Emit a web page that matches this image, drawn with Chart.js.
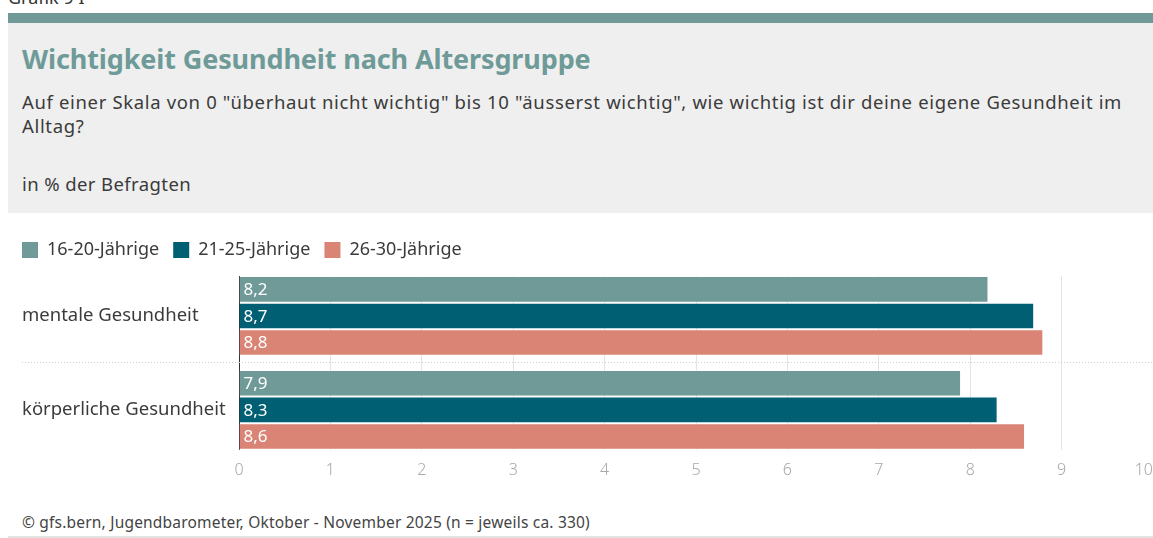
<!DOCTYPE html>
<html lang="de">
<head>
<meta charset="utf-8">
<script src="https://cdn.jsdelivr.net/npm/chart.js@4/dist/chart.umd.min.js"></script>
<style>
  html, body { margin: 0; padding: 0; background: #fff; overflow: hidden; }
  body { width: 1153px; height: 538px; position: relative; font-family: "Noto Sans", sans-serif; }
  .kicker { position: absolute; left: 8px; top: -15px; font-size: 18px; color: #333; }
  .band { position: absolute; left: 8px; right: 0; top: 13px; height: 10px; background: #6f9a98; }
  .head { position: absolute; left: 8px; right: 0; top: 23px; height: 190px; background: #efefef; }
  .title { position: absolute; left: 14px; top: 17px; font-size: 27px; letter-spacing: -0.12px; font-weight: 700; color: #6e9a98; }
  .sub { position: absolute; left: 14px; top: 67px; width: 1120px; font-size: 18.5px; letter-spacing: 0.65px; line-height: 24px; color: #3b3b3b; }
  .unit { position: absolute; left: 14px; top: 148px; font-size: 18.5px; letter-spacing: 0.4px; color: #3b3b3b; }
  .chartbox { position: absolute; left: 0; top: 217px; width: 1172px; height: 267px; }
  .foot { position: absolute; left: 22px; top: 511px; font-size: 15.5px; letter-spacing: 0.2px; color: #444; }
  .rule { position: absolute; left: 8px; right: 0; top: 536px; height: 2px; background: #e2e2e2; }
</style>
</head>
<body>
<div class="kicker">Grafik 9 I</div>
<div class="band"></div>
<div class="head">
  <div class="title">Wichtigkeit Gesundheit nach Altersgruppe</div>
  <div class="sub">Auf einer Skala von 0 "überhaut nicht wichtig" bis 10 "äusserst wichtig", wie wichtig ist dir deine eigene Gesundheit im Alltag?</div>
  <div class="unit">in % der Befragten</div>
</div>
<div class="chartbox"><canvas id="c" width="1172" height="267"></canvas></div>
<div class="foot">© gfs.bern, Jugendbarometer, Oktober - November 2025 (n = jeweils ca. 330)</div>
<div class="rule"></div>

<script>
// Kategorien und Werte (Mittelwerte auf der Skala 0–10)
const categories = ["mentale Gesundheit", "körperliche Gesundheit"];
const seriesNames = ["16-20-Jährige", "21-25-Jährige", "26-30-Jährige"];
const values1620 = [8.2, 7.9];
const values2125 = [8.7, 8.3];
const values2630 = [8.8, 8.6];
const xTicks = [0, 1, 2, 3, 4, 5, 6, 7, 8, 9, 10];

const colors = ["#6f9a98", "#005f73", "#d98474"];
const FONT = "'Noto Sans', sans-serif";
const LEGEND_GAP = 14;

// Wert-Beschriftungen am Balkenanfang
const valueLabels = {
  id: "valueLabels",
  afterDatasetsDraw(chart) {
    const ctx = chart.ctx;
    ctx.save();
    ctx.font = "17px " + FONT;
    ctx.fillStyle = "#ffffff";
    ctx.textAlign = "left";
    ctx.textBaseline = "middle";
    chart.data.datasets.forEach((ds, i) => {
      chart.getDatasetMeta(i).data.forEach((bar, j) => {
        const txt = ds.data[j].toFixed(1).replace(".", ",");
        ctx.fillText(txt, bar.base + 4, bar.y + 1);
      });
    });
    ctx.restore();
  }
};

// Legende bündig mit den Achsenbeschriftungen ausrichten
const legendFlush = {
  id: "legendFlush",
  afterLayout(chart) {
    if (chart.legend) {
      chart.legend.left -= LEGEND_GAP;
    }
  }
};

// Letzte Skalenbeschriftung rechtsbündig an ihre Gitterlinie setzen
const lastTickInside = {
  id: "lastTickInside",
  beforeDraw(chart) {
    const scale = chart.scales.x;
    const items = scale.getLabelItems(chart.chartArea);
    const last = items[items.length - 1];
    if (last) {
      last.options.textAlign = "right";
      last.options.translation[0] = scale.getPixelForValue(xTicks[xTicks.length - 1]);
    }
  }
};

// Gitter und Achse nur über die Höhe der Balkengruppen zeigen
const trimGrid = {
  id: "trimGrid",
  beforeDatasetsDraw(chart) {
    const area = chart.chartArea;
    const first = chart.getDatasetMeta(0).data[0];
    const lastMeta = chart.getDatasetMeta(chart.data.datasets.length - 1).data;
    const lastBar = lastMeta[lastMeta.length - 1];
    const top = first.y - first.height / 2;
    const bottom = lastBar.y + lastBar.height / 2;
    const ctx = chart.ctx;
    ctx.save();
    ctx.fillStyle = "#ffffff";
    ctx.fillRect(area.left - 1, area.top - 1, area.right - area.left + 3, top - area.top + 1);
    ctx.fillRect(area.left - 1, bottom, area.right - area.left + 3, area.bottom - bottom + 1);
    ctx.restore();
  }
};

new Chart(document.getElementById("c"), {
  type: "bar",
  data: {
    labels: categories,
    datasets: [values1620, values2125, values2630].map((d, i) => ({
      label: seriesNames[i],
      data: d,
      backgroundColor: colors[i],
      borderColor: "rgba(255,255,255,0.35)",
      borderWidth: 1,
      borderSkipped: "left",
      categoryPercentage: 0.85,
      barPercentage: 1.0
    }))
  },
  options: {
    indexAxis: "y",
    responsive: false,
    animation: false,
    devicePixelRatio: 1,
    layout: { padding: { left: 22, right: 19, top: 10, bottom: 0 } },
    plugins: {
      tooltip: { enabled: false },
      legend: {
        position: "top",
        align: "start",
        labels: {
          boxWidth: 16,
          boxHeight: 16,
          padding: LEGEND_GAP,
          color: "#3b3b3b",
          font: { family: FONT, size: 18 },
          generateLabels(chart) {
            return chart.data.datasets.map((ds, i) => ({
              text: ds.label,
              fillStyle: ds.backgroundColor,
              strokeStyle: ds.backgroundColor,
              lineWidth: 0,
              fontColor: "#3b3b3b",
              datasetIndex: i
            }));
          }
        }
      }
    },
    scales: {
      x: {
        min: 0,
        max: 10,
        afterBuildTicks(scale) { scale.ticks = xTicks.map(v => ({ value: v })); },
        grid: {
          // die Nulllinie dient als dunkle Achsenlinie
          color: ctx => (ctx.tick && ctx.tick.value === 0 ? "#333333" : "#e3e3e3"),
          lineWidth: 1,
          drawTicks: false
        },
        border: { display: false },
        ticks: {
          padding: 4,
          color: "#a8a8a8",
          font: { family: FONT, size: 16, weight: 300 },
          maxRotation: 0
        }
      },
      y: {
        grid: {
          offset: true,
          color: ctx => (ctx.index === 1 ? "#cfcfcf" : "rgba(0,0,0,0)"),
          tickBorderDash: [1, 2],
          tickLength: 217,
          lineWidth: 1
        },
        border: { display: false, dash: [1, 2] },
        ticks: {
          crossAlign: "far",
          padding: 0,
          color: "#3b3b3b",
          font: { family: FONT, size: 18.5 }
        },
        afterFit(scale) { scale.width = 217; }
      }
    }
  },
  plugins: [valueLabels, legendFlush, lastTickInside, trimGrid]
});
</script>
</body>
</html>
